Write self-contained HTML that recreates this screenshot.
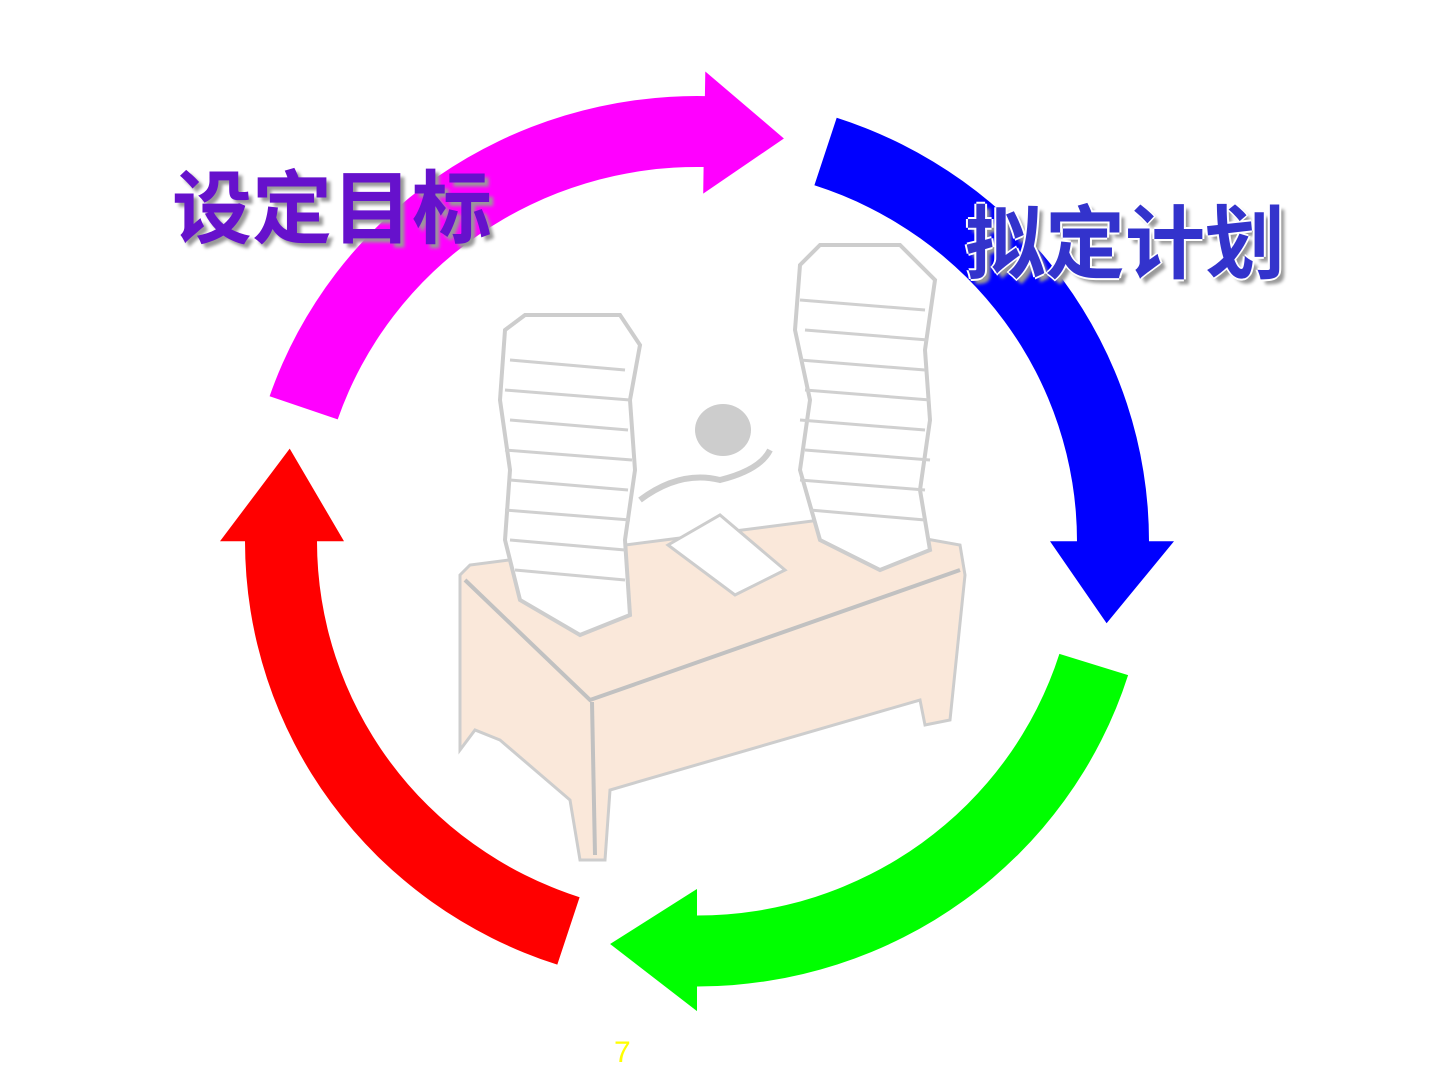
<!DOCTYPE html>
<html><head><meta charset="utf-8"><style>
html,body{margin:0;padding:0;background:#fff;}
body{width:1440px;height:1080px;position:relative;overflow:hidden;}
svg{position:absolute;left:0;top:0;}
.t{position:absolute;font-family:"Liberation Sans","Noto Sans CJK SC",sans-serif;font-weight:bold;font-size:80px;line-height:80px;white-space:nowrap;}
</style></head><body>
<svg width="1440" height="1080" id="s">
 <g id="desk" opacity="0.9">
  <polygon points="460,575 470,565 820,520 960,545 965,575 950,720 925,725 920,700 610,790 605,860 580,860 570,800 500,740 475,730 460,750" fill="#fae6d6" stroke="#c8c8c8" stroke-width="3"/>
  <polyline points="465,580 590,700 960,570" fill="none" stroke="#bbb" stroke-width="4"/>
  <line x1="592" y1="702" x2="595" y2="855" stroke="#bbb" stroke-width="4"/>
  <polygon points="505,330 525,315 620,315 640,345 630,400 635,470 625,540 630,615 580,635 520,600 505,540 510,470 500,400" fill="#fff" stroke="#c8c8c8" stroke-width="4"/>
  <polygon points="800,265 820,245 900,245 935,280 925,350 930,420 920,490 930,550 880,570 820,540 800,470 810,400 795,330" fill="#fff" stroke="#c8c8c8" stroke-width="4"/>
  <g stroke="#ccc" stroke-width="3" fill="none">
   <path d="M510,360 L625,370 M505,390 L630,400 M510,420 L628,430 M505,450 L632,460 M510,480 L628,490 M505,510 L630,520 M510,540 L625,550 M515,570 L625,580"/>
   <path d="M800,300 L925,310 M805,330 L928,340 M800,360 L925,370 M805,390 L930,400 M800,420 L925,430 M805,450 L930,460 M800,480 L925,490 M810,510 L925,520"/>
  </g>
  <ellipse cx="723" cy="430" rx="28" ry="26" fill="#c8c8c8"/>
  <path d="M640,500 Q680,470 720,480 Q760,470 770,450" stroke="#c8c8c8" stroke-width="6" fill="none"/>
  <polygon points="668,545 720,515 785,570 735,595" fill="#fff" stroke="#c8c8c8" stroke-width="3"/>
 </g>
 <g id="arrows" transform="translate(0,97) scale(1,0.985) translate(0,-97)"></g>
</svg>
<div class="t" style="left:172px;top:170px;color:#6611cc;text-shadow:4px 4px 3px #999;">设定目标</div>
<div class="t" style="left:965px;top:205px;color:#3333cc;text-shadow:-2px 0 #fff,2px 0 #fff,0 -2px #fff,0 2px #fff,5px 5px 3px #999;">拟定计划</div>
<div style="position:absolute;left:614px;top:1036px;font-family:'Liberation Sans',sans-serif;font-size:30px;color:#ffff00;">7</div>
<script>
var cx=697,cy=548,R=452,r=380,HR=477,Hr=353,TR=418;
function p(rad,a){a=a*Math.PI/180;return (cx+rad*Math.cos(a)).toFixed(1)+","+(cy+rad*Math.sin(a)).toFixed(1);}
var arr=[[199,271,282,"#ff00ff"],[288,360,371.5,"#0000ff"],[377.5,450,462,"#00ff00"],[468,540,553,"#ff0000"]];
var g=document.getElementById("arrows"),h="";
arr.forEach(function(x){
 var d="M"+p(R,x[0])+" A"+R+","+R+" 0 0 1 "+p(R,x[1])+" L"+p(HR,x[1])+" L"+p(TR,x[2])+" L"+p(Hr,x[1])+" L"+p(r,x[1])+" A"+r+","+r+" 0 0 0 "+p(r,x[0])+" Z";
 h+='<path d="'+d+'" fill="'+x[3]+'"/>';
});
g.innerHTML=h;
</script>
</body></html>
